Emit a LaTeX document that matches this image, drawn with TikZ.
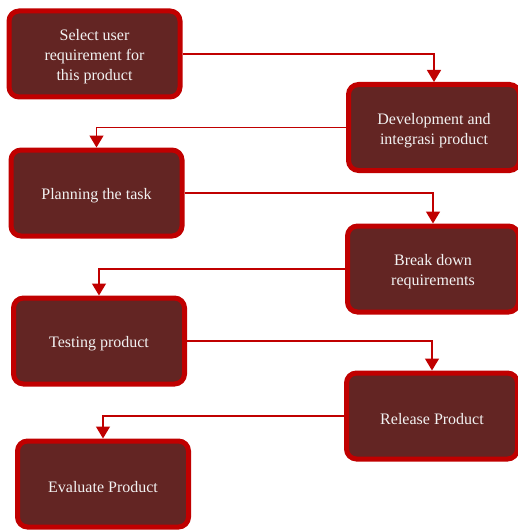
\documentclass[tikz,border=0pt]{standalone}
\usepackage{fontspec}
\setmainfont{Liberation Serif}
\usepackage{xcolor}
\usetikzlibrary{arrows.meta}
\definecolor{boxfill}{HTML}{632523}
\definecolor{boxline}{HTML}{C00000}
\definecolor{boxtext}{HTML}{F2F2F2}
\tikzset{
    task/.style={draw=boxline, fill=boxfill, line width=5pt, rounded corners=10pt,
        minimum width=171pt, minimum height=86pt, text=boxtext, align=center,
        font=\fontsize{16}{20}\selectfont},
    flow/.style={draw=boxline, line width=1.5pt, -{Triangle[width=14pt,length=12pt]}}
}

\begin{document}
\begin{tikzpicture}[x=1pt,y=-1pt]
    \useasboundingbox (0,0) rectangle (517,532);
    % Tasks
    \foreach \name/\x/\y/\txt in {sel/94.5/54/{Select user\\requirement for\\this product},
        dev/434/127.5/{Development and\\integrasi product},
        plan/96.5/193/{Planning the task},
        brk/433/269/{Break down\\requirements},
        test/99/341/{Testing product},
        rel/432/416/{Release Product},
        eval/103/484/{Evaluate Product}}
        \node [task] (\name) at (\x,\y) {\rule{0pt}{17pt}\txt};

    % Flow
    \foreach \a/\b in {sel/dev, dev/plan, plan/brk, brk/test, test/rel, rel/eval}
        \draw [flow] (\a) -| (\b);
\end{tikzpicture}
\end{document}
